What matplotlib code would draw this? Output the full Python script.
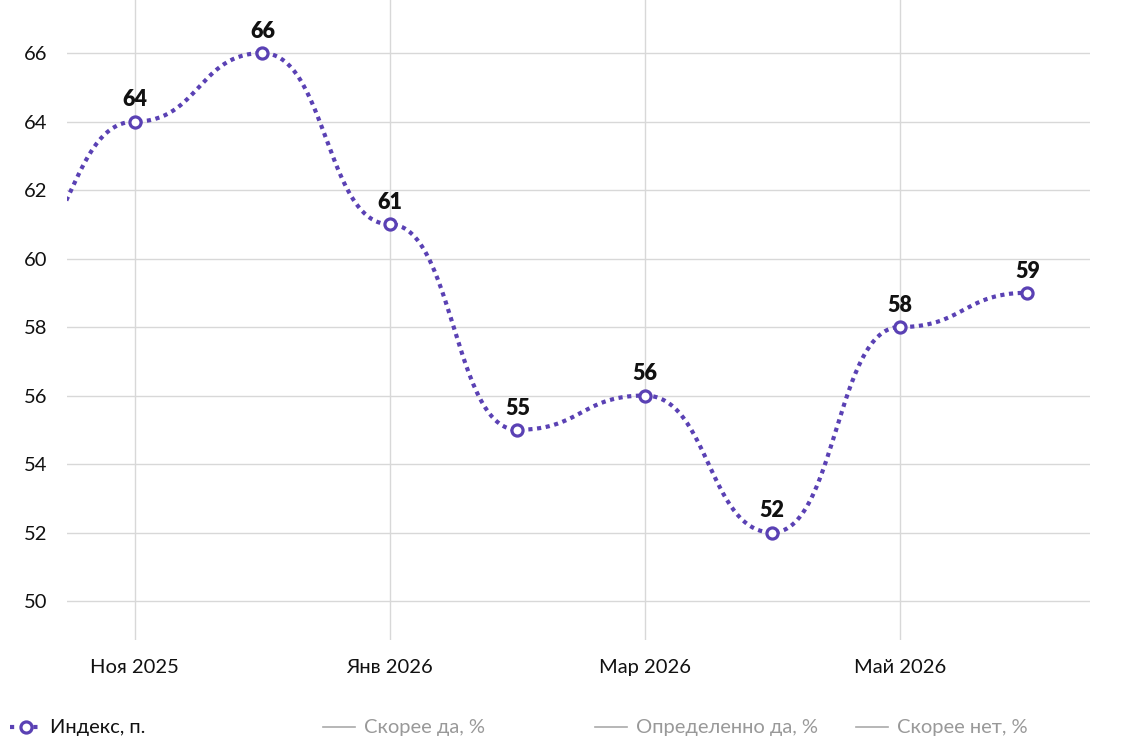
import numpy as np
import matplotlib.pyplot as plt
from matplotlib.lines import Line2D

plt.rcParams['font.family'] = ['Lato', 'Noto Sans', 'DejaVu Sans']

# data (Oct 2025 value sits outside the visible area, estimated)
months = ['Окт 2025', 'Ноя 2025', 'Дек 2025', 'Янв 2026', 'Фев 2026',
          'Мар 2026', 'Апр 2026', 'Май 2026', 'Июн 2026']
index_vals = [60, 64, 66, 61, 55, 56, 52, 58, 59]
tick_months = ['Ноя 2025', 'Янв 2026', 'Мар 2026', 'Май 2026']
y_ticks = [50, 52, 54, 56, 58, 60, 62, 64, 66]
legend_hidden = ['Скорее да, %', 'Определенно да, %', 'Скорее нет, %']

purple = '#5a41b4'
x = np.arange(len(months))
y = np.array(index_vals, dtype=float)


def bump_curve(xs, ys, n=60):
    # cubic bezier between points with horizontal handles (bump-x style)
    px, py = [], []
    t = np.linspace(0, 1, n)
    for i in range(len(xs) - 1):
        x0, x1, y0, y1 = xs[i], xs[i + 1], ys[i], ys[i + 1]
        xm = (x0 + x1) / 2
        bx = (1 - t)**3 * x0 + 3 * (1 - t)**2 * t * xm + 3 * (1 - t) * t**2 * xm + t**3 * x1
        by = (1 - t)**3 * y0 + 3 * (1 - t)**2 * t * y0 + 3 * (1 - t) * t**2 * y1 + t**3 * y1
        px.extend(bx if i == 0 else bx[1:])
        py.extend(by if i == 0 else by[1:])
    return np.array(px), np.array(py)


fig = plt.figure(figsize=(11.39, 7.53), dpi=100)
ax = fig.add_axes([0.0588, 0.150, 0.898, 0.850])

cx, cy = bump_curve(x, y)
ax.plot(cx, cy, color=purple, lw=3.0, linestyle=(0, (1, 1.1)),
        dash_capstyle='butt', zorder=3)
ax.plot(x, y, linestyle='none', marker='o', ms=8, mfc='white', mec=purple,
        mew=2.3, zorder=4)

for xi, yi in zip(x[1:], y[1:]):
    ax.annotate(f'{yi:.0f}', (xi, yi), xytext=(0, 8), textcoords='offset points',
                ha='center', va='bottom', fontsize=15.5, fontweight='heavy',
                color='#111111', zorder=5)

ax.set_xlim(0.467, 8.49)
ax.set_ylim(48.86, 67.55)
ax.set_yticks(y_ticks)
ax.set_xticks([months.index(m) for m in tick_months])
ax.set_xticklabels(tick_months)
ax.grid(True, color='#d8d8d8', lw=1)
ax.set_axisbelow(True)
for s in ax.spines.values():
    s.set_visible(False)
ax.tick_params(axis='both', length=0, labelsize=14.5, colors='#111111')
ax.tick_params(axis='x', pad=14)
ax.tick_params(axis='y', pad=14)

# legend
ly = 1 - 727 / 753
fig.add_artist(Line2D([10 / 1139, 42 / 1139], [ly, ly], color=purple, lw=3.0,
                      linestyle=(0, (1, 1.8)), dash_capstyle='butt'))
fig.add_artist(Line2D([26 / 1139], [ly], marker='o', ms=8, mfc='white',
                      mec=purple, mew=2.3, linestyle='none'))
fig.text(50 / 1139, ly, 'Индекс, п.', fontsize=14.5, color='#111111', va='center')
for name, lx in zip(legend_hidden, [323, 595, 856]):
    fig.add_artist(Line2D([lx / 1139, (lx + 32) / 1139], [ly, ly], color='#aaaaaa', lw=1.2))
    fig.text((lx + 41) / 1139, ly, name, fontsize=14.5, color='#999999', va='center')

fig.savefig('out.png', dpi=100)
